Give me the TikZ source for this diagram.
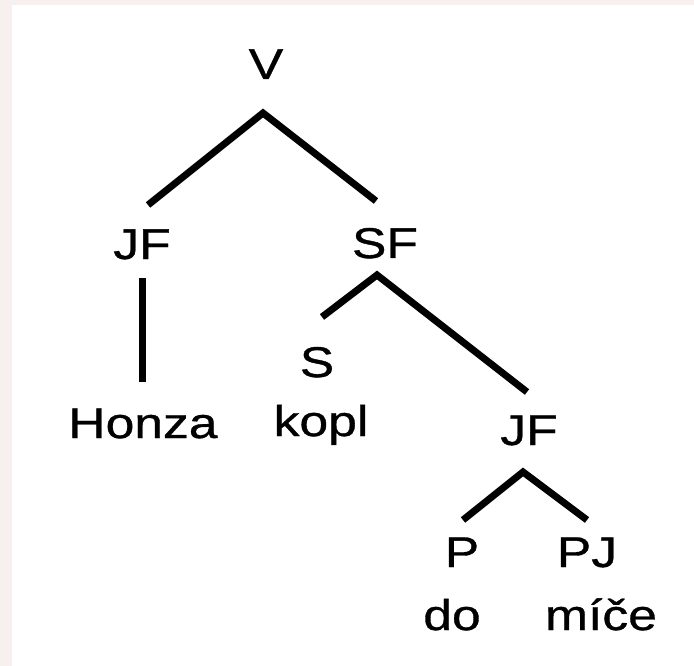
\documentclass[tikz,border=0pt]{standalone}
\usepackage{fontspec}
\setmainfont{Liberation Sans}[FakeStretch=1.2,FakeBold=0.8]
\usepackage{tikz}
\usetikzlibrary{positioning}
\definecolor{paper}{RGB}{248,239,239}

\begin{document}
\begin{tikzpicture}[x=1pt,y=-1pt,
                    cat/.style={anchor=base,inner sep=0pt,font=\fontsize{43}{50}\selectfont},
                    word/.style={cat},
                    branch/.style={line width=7pt,line join=miter}
                   ]
  \useasboundingbox (0,0) rectangle (694,666);
  \fill[paper] (0,0) rectangle (694,5);
  \fill[paper] (0,0) rectangle (12,666);

  % categories
  \node[cat] (v) at (266,79) {V};
  \node[cat] (jf1) at (142,259) {JF};
  \node[cat] (sf) at (385,258) {SF};
  \node[cat] (s) at (317,377) {S};
  \node[cat] (jf2) at (529,445) {JF};
  \node[cat] (p) at (462,567) {P};
  \node[cat] (pj) at (587,567) {PJ};

  % words
  \node[word] (honza) at (143,438) {Honza};
  \node[word] (kopl) at (321,436) {kopl};
  \node[word] (do) at (452,630) {do};
  \node[word] (mice) at (601,630) {míče};

  % branch points
  \coordinate (v-tip) at (263,113);
  \coordinate (jf1-top) at (148,205);
  \coordinate (sf-top) at (376,201);
  \coordinate (jf1-foot) at (142,278);
  \coordinate (honza-top) at (142,382);
  \coordinate (sf-tip) at (377,275);
  \coordinate (s-top) at (322,317);
  \coordinate (jf2-top) at (527,392);
  \coordinate (jf2-tip) at (523,472);
  \coordinate (p-top) at (463,520);
  \coordinate (pj-top) at (587,520);

  \draw[branch] (jf1-top) -- (v-tip) -- (sf-top);
  \draw[branch] (jf1-foot) -- (honza-top);
  \draw[branch] (s-top) -- (sf-tip) -- (jf2-top);
  \draw[branch] (p-top) -- (jf2-tip) -- (pj-top);
\end{tikzpicture}
\end{document}
